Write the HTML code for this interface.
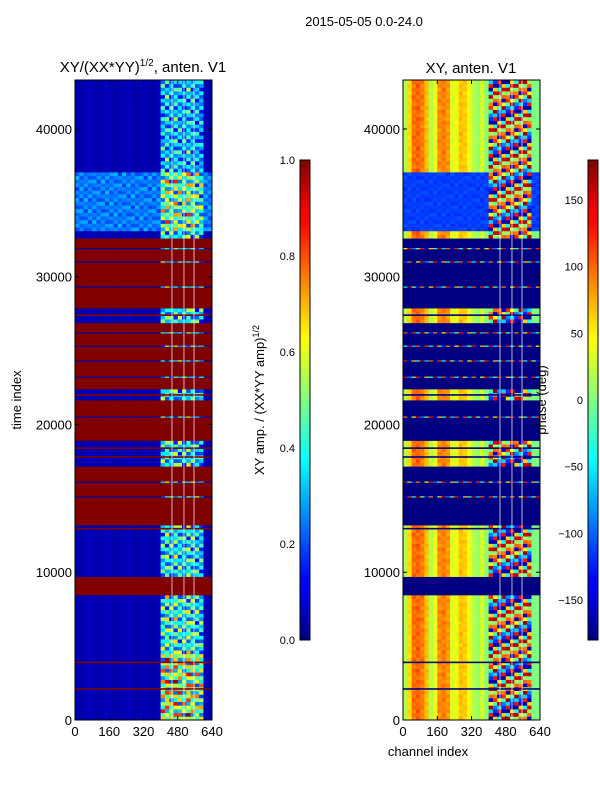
<!DOCTYPE html>
<html><head><meta charset="utf-8">
<style>
html,body{margin:0;padding:0;background:#fff;}
svg{display:block;font-family:"Liberation Sans","DejaVu Sans",sans-serif;}
</style></head>
<body>
<svg id="fig" width="600" height="800" viewBox="0 0 600 800" xmlns="http://www.w3.org/2000/svg">
<defs>
<linearGradient id="jet" x1="0" y1="1" x2="0" y2="0">
<stop offset="0" stop-color="#000080"/><stop offset="0.11" stop-color="#0000ff"/>
<stop offset="0.125" stop-color="#0000ff"/><stop offset="0.34" stop-color="#00dcff"/>
<stop offset="0.375" stop-color="#0ff"/><stop offset="0.5" stop-color="#80ff7f"/>
<stop offset="0.625" stop-color="#ff0"/><stop offset="0.66" stop-color="#ffe000"/>
<stop offset="0.875" stop-color="#ff0000"/><stop offset="0.89" stop-color="#f00"/>
<stop offset="1" stop-color="#800000"/>
</linearGradient>
</defs>
<text x="364" y="26" font-size="13" text-anchor="middle">2015-05-05 0.0-24.0</text>
<text x="143" y="72" font-size="15" text-anchor="middle">XY/(XX*YY)<tspan font-size="10" dy="-6">1/2</tspan><tspan dy="6">, anten. V1</tspan></text>
<text x="471" y="73" font-size="15" text-anchor="middle">XY, anten. V1</text>
<g id="left"></g>
<g id="right"></g>
<g id="axes"></g>
<text transform="translate(21,400) rotate(-90)" font-size="13" text-anchor="middle">time index</text>
<text x="428" y="756" font-size="13" text-anchor="middle">channel index</text>
<rect x="300" y="160" width="10" height="480" fill="url(#jet)" stroke="#000" stroke-width="1"/>
<rect x="588" y="160" width="10" height="480" fill="url(#jet)" stroke="#000" stroke-width="1"/>
<text transform="translate(264,400) rotate(-90)" font-size="13" text-anchor="middle">XY amp. / (XX*YY amp)<tspan font-size="9" dy="-5">1/2</tspan></text>
<text transform="translate(546,400) rotate(-90)" font-size="13" text-anchor="middle">phase (deg)</text>
</svg>
<script>
const flagStart = [8460, 13198, 19018, 22335, 27952];
const flagEnd = [9814, 17123, 21658, 26937, 32690];
const flagLines = [2100, 3900, 12950, 13500, 17800, 18400, 22000, 27400];
const gapLines = [15100, 16100, 20500, 23200, 24300, 25300, 26200, 29300, 31000, 31900];
const blueStart = 33030, blueEnd = 37090;
const chanAmp = [0.05,0.04,0.05,0.06,0.05,0.04,0.05,0.06,0.05,0.04,0.05,0.05,0.06,0.05,0.04,0.05,0.05,0.05,0.04,0.06,0.45,0.5,0.42,0.5,0.45,0.42,0.5,0.45,0.42,0.4,0.05,0.04];
const rowMod = [0.9,0.6,1.1,0.4,0.8,1.2,0.5,0.9,0.3,1.0,0.7,1.3,0.6,0.8,0.4,1.1,0.7];
const timeScaleEdges = [0,4500,9814,33030,37090,43316];
const timeScale = [1.5,1.1,1.0,1.3,0.85];
const chanPhase = [20,60,100,105,95,70,20,40,90,95,85,35,40,70,65,40,20,10,30,5,0,0,0,0,0,0,0,0,0,0,0,0];
const phaseNoise = [-160,120,-40,170,10,-120,90,-170,40,150,-90,0,130,-150,60,-20,160,-60,100];
const ampTicks = [0,0.2,0.4,0.6,0.8,1.0];
const phaseTicks = [-150,-100,-50,0,50,100,150];
const timeTicks = [0,10000,20000,30000,40000];
const chanTicks = [0,160,320,480,640];
const whiteChans = [453,509,556];

const NS='http://www.w3.org/2000/svg';
const T0=0,T1=43316,C1=640,NR=174,NC=32;
const Y0=720,Y1=80;
function yT(t){return Y0-(t-T0)/(T1-T0)*(Y0-Y1);}
function xL(c){return 75+c/C1*137;}
function xR(c){return 403+c/C1*137;}
function clip(v){return Math.max(0,Math.min(1,v));}
function jet(v){v=clip(v);const r=clip(1.5-Math.abs(4*v-3)),g=clip(1.5-Math.abs(4*v-2)),b=clip(1.5-Math.abs(4*v-1));
return 'rgb('+Math.round(r*255)+','+Math.round(g*255)+','+Math.round(b*255)+')';}
function inBand(t){for(let i=0;i<flagStart.length;i++)if(t>=flagStart[i]&&t<flagEnd[i])return true;return false;}
function tScale(t){for(let i=0;i<timeScale.length;i++)if(t>=timeScaleEdges[i]&&t<timeScaleEdges[i+1])return timeScale[i];return 1;}
const dt=(T1-T0)/NR, dc=C1/NC;
const L=document.getElementById('left'),R=document.getElementById('right');
function rect(g,x,y,w,h,f,name){const e=document.createElementNS(NS,'rect');
e.setAttribute('x',x.toFixed(2));e.setAttribute('y',y.toFixed(2));e.setAttribute('width',(w+0.4).toFixed(2));e.setAttribute('height',(h+0.4).toFixed(2));e.setAttribute('fill',f);


g.appendChild(e);}
for(let r=0;r<NR;r++){
  const t=T0+(r+0.5)*dt;
  const flagged=inBand(t);
  const y=yT(T0+(r+1)*dt), h=dt/(T1-T0)*(Y0-Y1);
  for(let c=0;c<NC;c++){
    let a,p;
    const noisy=c>=20&&c<30;
    const m=rowMod[(r+c*3)%rowMod.length];
    if(flagged){a=1.0;p=-180;}
    else if(noisy){a=chanAmp[c]*m*tScale(t);p=phaseNoise[(r*5+c*7)%phaseNoise.length];}
    else if(t>=blueStart&&t<blueEnd){a=0.15+0.12*m;p=-125+15*m;}
    else{a=chanAmp[c];p=chanPhase[c]*(0.8+0.2*m);}
    rect(L,xL(c*dc),y,137/NC,h,jet(a));
    rect(R,xR(c*dc),y,137/NC,h,jet((p+180)/360));
  }
}
// thin flagged lines (outside bands) and thin data lines (inside bands)
flagLines.forEach(t=>{const y=yT(t)-0.8;
  rect(L,75,y,137,1.2,jet(1.0),'flagged-line');
  rect(R,403,y,137,1.2,jet(0),'flagged-line');});
gapLines.forEach((t,i)=>{const y=yT(t)-0.6;
  rect(L,75,y,137,0.8,jet(0.04),'data-line');
  for(let c=0;c<NC;c++){
    if(c>=20&&c<30)rect(L,xL(c*dc),y,137/NC,0.8,jet(chanAmp[c]*rowMod[(i+c)%rowMod.length]),'data-line');
    rect(R,xR(c*dc),y,137/NC,0.8,jet((phaseNoise[(i*3+c)%phaseNoise.length]+180)/360),'data-line');
  }});
whiteChans.forEach(c=>{[[L,xL],[R,xR]].forEach(([g,f])=>{
  const e=document.createElementNS(NS,'rect');e.setAttribute('x',f(c)-0.7);e.setAttribute('y',80);e.setAttribute('width',1.4);e.setAttribute('height',640);e.setAttribute('fill','#fff');e.setAttribute('opacity','0.5');
  
  
  g.appendChild(e);});});
const A=document.getElementById('axes');
function el(tag,attrs,txt){const e=document.createElementNS(NS,tag);for(const k in attrs)e.setAttribute(k,attrs[k]);if(txt!==undefined)e.textContent=txt;A.appendChild(e);return e;}
[75,403].forEach((x0,pi)=>{
  const f=el('rect',{x:x0,y:80,width:137,height:640,fill:'none',stroke:'#000','stroke-width':1});
  
  
  timeTicks.forEach(t=>{const y=yT(t);
    el('line',{x1:x0,x2:x0+4,y1:y,y2:y,stroke:'#000'});el('line',{x1:x0+137,x2:x0+133,y1:y,y2:y,stroke:'#000'});
    const tx=el('text',{x:x0-3,y:y+5,'font-size':13,'text-anchor':'end'},String(t));
    
    });
  chanTicks.forEach(c=>{const x=x0+c/C1*137;
    el('line',{x1:x,x2:x,y1:720,y2:716,stroke:'#000'});el('line',{x1:x,x2:x,y1:80,y2:84,stroke:'#000'});
    const tx=el('text',{x:x,y:736,'font-size':13,'text-anchor':'middle'},String(c));
    
    });
});
ampTicks.forEach(v=>{const y=640-v*480;
  el('line',{x1:306,x2:310,y1:y,y2:y,stroke:'#000'});
  const tx=el('text',{x:295,y:y+4,'font-size':11,'text-anchor':'end'},v.toFixed(1));
  
  });
phaseTicks.forEach(v=>{const y=640-(v+180)/360*480;
  el('line',{x1:594,x2:598,y1:y,y2:y,stroke:'#000'});
  const tx=el('text',{x:583,y:y+4,'font-size':11,'text-anchor':'end'},String(v).replace('-','\u2212'));
  
  });
</script>
</body></html>
